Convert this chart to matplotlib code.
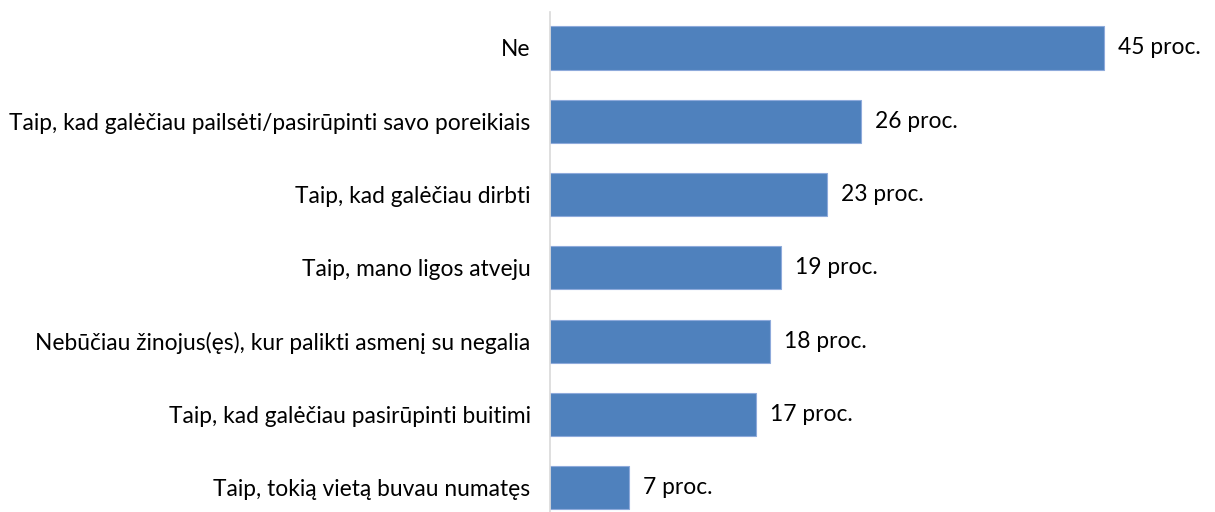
import matplotlib.pyplot as plt

plt.rcParams['font.family'] = ['Lato', 'DejaVu Sans']

categories = [
    "Ne",
    "Taip, kad galėčiau pailsėti/pasirūpinti savo poreikiais",
    "Taip, kad galėčiau dirbti",
    "Taip, mano ligos atveju",
    "Nebūčiau žinojus(ęs), kur palikti asmenį su negalia",
    "Taip, kad galėčiau pasirūpinti buitimi",
    "Taip, tokią vietą buvau numatęs",
]
values = [45.4, 25.5, 22.7, 18.9, 18.0, 16.9, 6.5]
value_labels = ["45 proc.", "26 proc.", "23 proc.", "19 proc.", "18 proc.", "17 proc.", "7 proc."]

fig = plt.figure(figsize=(12.15, 5.12), dpi=100)
ax = fig.add_axes([550 / 1215, 0, 1 - 550 / 1215, 1 - 12 / 512])

pos = list(range(len(categories)))
ax.barh(pos, values, height=0.59, color="#4F81BD", edgecolor="#8EAADB", linewidth=0.8)

for p, v, lab in zip(pos, values, value_labels):
    ax.text(v + 1.15, p, lab, va="center", ha="left", fontsize=16.4, color="black")

ax.set_yticks(pos)
ax.set_yticklabels(categories, fontsize=16.4)
ax.tick_params(axis="y", length=0, pad=14)
ax.set_xticks([])
ax.set_xlim(0, 665 / 12.2)
ax.set_ylim(6.33, -0.49)

for s in ["top", "right", "bottom"]:
    ax.spines[s].set_visible(False)
ax.spines["left"].set_color("#D9D9D9")
ax.spines["left"].set_linewidth(1.2)

fig.savefig("out.png", dpi=100)
